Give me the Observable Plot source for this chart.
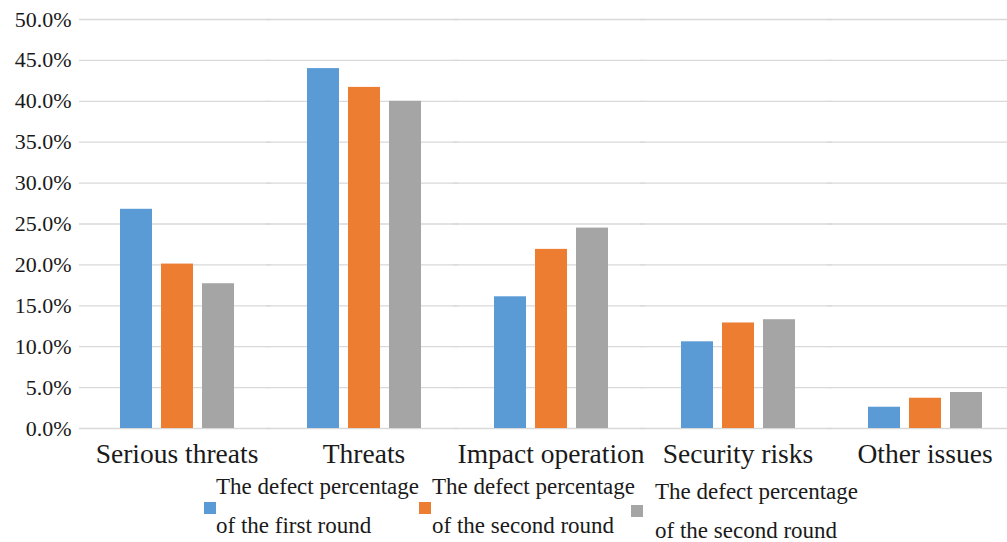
<!DOCTYPE html>
<html>
<head>
<meta charset="utf-8">
<script src="https://cdn.jsdelivr.net/npm/d3@7"></script>
<script src="https://cdn.jsdelivr.net/npm/@observablehq/plot@0.6"></script>
<style>
  body { margin: 0; background: #fff; font-family: "Liberation Serif", "Times New Roman", serif; overflow: hidden; }
  #chart { width: 1007px; position: relative; }
  #chart svg text { font-family: "Liberation Serif", "Times New Roman", serif; }
  .legend { position: relative; height: 72px; width: 1007px; }
  .sw { position: absolute; width: 12px; height: 12px; }
  .txt { position: absolute; color: #1a1a1a; font-size: 23px; line-height: 39px; white-space: nowrap; }
</style>
</head>
<body>
<div id="chart"></div>
<script>
const categories = ["Serious threats", "Threats", "Impact operation", "Security risks", "Other issues"];
const seriesKeys = ["round1", "round2", "round3"];
const seriesLine1 = ["The defect percentage", "The defect percentage", "The defect percentage"];
const seriesLine2 = ["of the first round", "of the second round", "of the second round"];
const seriesColors = ["#5B9BD5", "#ED7D31", "#A5A5A5"];
const round1 = [26.8, 44.0, 16.1, 10.6, 2.6];
const round2 = [20.1, 41.7, 21.9, 12.9, 3.7];
const round3 = [17.7, 40.0, 24.5, 13.3, 4.4];
const yTicks = [0, 5, 10, 15, 20, 25, 30, 35, 40, 45, 50];

const seriesValues = [round1, round2, round3];
const data = [];
categories.forEach((c, i) => {
  seriesKeys.forEach((s, j) => data.push({category: c, series: s, value: seriesValues[j][i]}));
});
const serif = "Liberation Serif, Times New Roman, serif";

const plot = Plot.plot({
  width: 1007,
  height: 470,
  marginLeft: 82,
  marginRight: 2,
  marginTop: 19,
  marginBottom: 42,
  style: {fontFamily: serif, color: "#1a1a1a", background: "#fff"},
  fx: {domain: categories, paddingInner: 0.385, paddingOuter: 0.15, align: 0.62, label: null, axis: null},
  x: {domain: seriesKeys, paddingInner: 0.22, paddingOuter: 0, axis: null},
  y: {domain: [0, 50], label: null, axis: null},
  color: {domain: seriesKeys, range: seriesColors},
  marks: [
    Plot.ruleY(yTicks, {y: d => d, stroke: "#d9d9d9", strokeWidth: 1.3, insetLeft: -40, insetRight: -37}),
    Plot.barY(data, {fx: "category", x: "series", y: "value", fill: "series"}),
    Plot.axisY(yTicks, {anchor: "left", tickSize: 0, tickPadding: 48, fontSize: 22, fontFamily: serif, tickFormat: d => d.toFixed(1) + "%", label: null}),
    Plot.axisFx({anchor: "bottom", tickSize: 0, tickPadding: 15, fontSize: 27.5, fontFamily: serif, label: null})
  ]
});
document.getElementById("chart").appendChild(plot);

const legend = document.createElement("div");
legend.className = "legend";
const swLeft = [204, 419, 631];
const txtLeft = [216, 432, 655];
const extraTop = [-2, -2, 3];
seriesKeys.forEach((s, j) => {
  const sw = document.createElement("div");
  sw.className = "sw";
  sw.style.background = seriesColors[j];
  sw.style.left = swLeft[j] + "px";
  sw.style.top = (32 + Math.max(0, extraTop[j])) + "px";
  const txt = document.createElement("div");
  txt.className = "txt";
  txt.style.left = txtLeft[j] + "px";
  txt.style.top = (-1 + extraTop[j]) + "px";
  txt.innerHTML = seriesLine1[j] + "<br>" + seriesLine2[j];
  legend.appendChild(sw);
  legend.appendChild(txt);
});
document.getElementById("chart").appendChild(legend);
</script>
</body>
</html>
